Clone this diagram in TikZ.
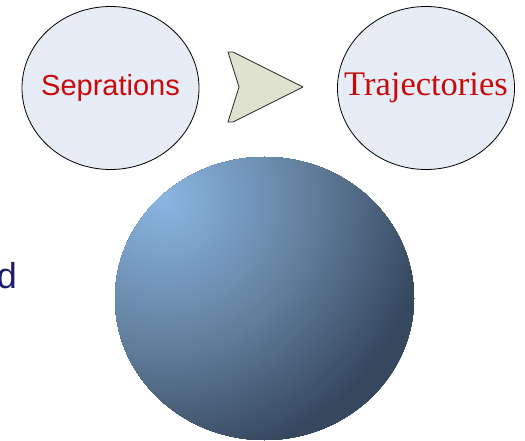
\documentclass[tikz,border=0pt]{standalone}
\usepackage{fontspec}
\setmainfont{Liberation Serif}
\setsansfont{Liberation Sans}
\usetikzlibrary{shapes.geometric}
\definecolor{ellfill}{RGB}{230,237,247}
\definecolor{txtred}{RGB}{200,10,10}
\definecolor{chevfill}{RGB}{222,226,206}
\definecolor{navy}{RGB}{28,28,110}
\definecolor{sphlight}{RGB}{138,182,226}
\definecolor{sphmid}{RGB}{100,130,160}
\definecolor{sphdark}{RGB}{54,72,94}
\tikzset{
  bubble/.style={ellipse, draw=black, line width=0.8pt, fill=ellfill,
    minimum width=177pt, minimum height=163pt, inner sep=0pt},
  bubbletext/.style={text=txtred, inner sep=0pt},
  chevron/.style={draw=black!85, line width=0.8pt, fill=chevfill, line join=round}
}
\begin{document}
\begin{tikzpicture}[x=1pt,y=-1pt]
\useasboundingbox (0,0) rectangle (525,441);
% bubbles
\node[bubble] (sep) at (110.5,88) {};
\node[bubbletext, font=\sffamily\fontsize{29}{32}\selectfont] (septxt) at (sep.center) {Seprations};
\node[bubble] (traj) at (426,88) {};
\node[bubbletext, font=\rmfamily\fontsize{34.5}{38}\selectfont] (trajtxt) at (traj.center) {Trajectories};
% chevron
\draw[chevron] (228,52) -- (233,52) -- (303,87) -- (233,122) -- (228,122) -- (239,87) -- cycle;
% sphere
\begin{scope}
\clip (264.5,298.5) ellipse [x radius=149.5, y radius=141.5];
\foreach \r in {330,327,...,0} {
  \pgfmathsetmacro\pa{min(max((\r-139)/126,0),1)*100}
  \pgfmathsetmacro\pb{min(\r/139,1)*100}
  \colorlet{ringin}{sphmid!\pb!sphlight}
  \colorlet{ringc}{sphdark!\pa!ringin}
  \fill[ringc] (165,200) circle [radius=\r+1.5];
}
\end{scope}
\coordinate (sphere) at (264.5,298.5);
% partial text
\node[anchor=base east, inner sep=0pt, text=navy, font=\sffamily\fontsize{36}{40}\selectfont] (dtxt) at (17,288) {d};
\end{tikzpicture}
\end{document}
